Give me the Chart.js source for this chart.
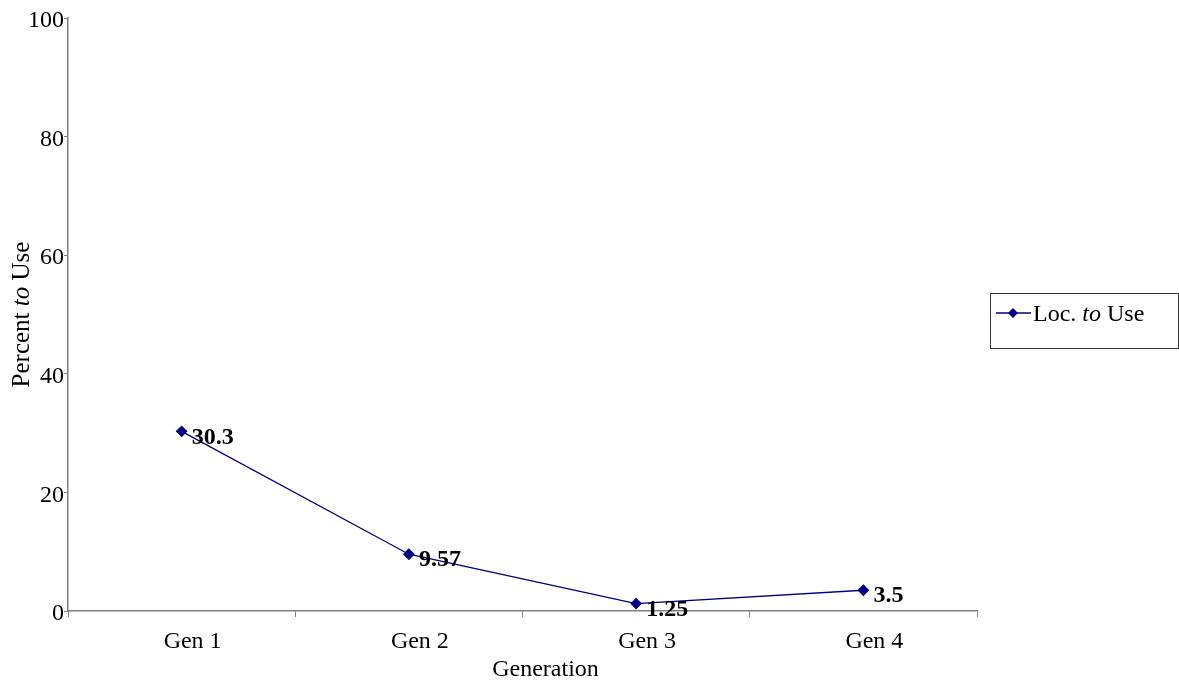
<!DOCTYPE html>
<html>
<head>
<meta charset="utf-8">
<script src="https://cdn.jsdelivr.net/npm/chart.js@4"></script>
<style>
  html, body { margin: 0; padding: 0; background: #fff; }
  #wrap { width: 1179px; height: 683px; }
</style>
</head>
<body>
<div id="wrap"><canvas id="c" width="1179" height="683"></canvas></div>
<script>
// Share of locations "to use" per generation
const generations = ['Gen 1', 'Gen 2', 'Gen 3', 'Gen 4'];
const locToUse = [30.3, 9.57, 1.25, 3.5];
const yTicks = [0, 20, 40, 60, 80, 100];

const FONT = '"Liberation Serif", "DejaVu Serif", serif';
const NAVY = '#000080';
const AXIS = '#808080';
const SIZE = 24;

// Draws mixed roman/italic text runs starting at x
function drawRuns(ctx, runs, x, y, size) {
  let cx = x;
  runs.forEach(r => {
    ctx.font = (r.italic ? 'italic ' : '') + size + 'px ' + FONT;
    ctx.fillText(r.text, cx, y);
    cx += ctx.measureText(r.text).width;
  });
  return cx - x;
}
function runsWidth(ctx, runs, size) {
  let w = 0;
  runs.forEach(r => {
    ctx.font = (r.italic ? 'italic ' : '') + size + 'px ' + FONT;
    w += ctx.measureText(r.text).width;
  });
  return w;
}

const decorations = {
  id: 'decorations',
  afterDatasetsDraw(chart) {
    const ctx = chart.ctx;
    const area = chart.chartArea;
    ctx.save();
    ctx.fillStyle = '#000';

    // value labels next to each point
    ctx.font = 'bold ' + SIZE + 'px ' + FONT;
    ctx.textAlign = 'left';
    ctx.textBaseline = 'middle';
    const meta = chart.getDatasetMeta(0);
    meta.data.forEach((pt, i) => {
      ctx.fillText(String(locToUse[i]), pt.x + 10, pt.y + 6);
    });

    // x axis title
    ctx.font = SIZE + 'px ' + FONT;
    ctx.textAlign = 'center';
    ctx.textBaseline = 'middle';
    ctx.fillText('Generation', (area.left + area.right) / 2 + 23, 670);

    // y axis title (rotated, with italic "to")
    const yRuns = [{text: 'Percent '}, {text: 'to', italic: true}, {text: ' Use'}];
    const ySize = 25;
    const yw = runsWidth(ctx, yRuns, ySize);
    ctx.save();
    ctx.translate(22, (area.top + area.bottom) / 2);
    ctx.rotate(-Math.PI / 2);
    ctx.textAlign = 'left';
    ctx.textBaseline = 'middle';
    drawRuns(ctx, yRuns, -yw / 2, 0, ySize);
    ctx.restore();

    // legend box
    const lx = 990.5, ly = 293.5, lw = 188, lh = 55;
    ctx.strokeStyle = '#333';
    ctx.lineWidth = 1;
    ctx.strokeRect(lx, ly, lw, lh);
    const sy = 313;
    ctx.strokeStyle = NAVY;
    ctx.lineWidth = 1.7;
    ctx.beginPath();
    ctx.moveTo(996, sy);
    ctx.lineTo(1031, sy);
    ctx.stroke();
    ctx.fillStyle = NAVY;
    ctx.beginPath();
    ctx.moveTo(1013, sy - 5);
    ctx.lineTo(1018, sy);
    ctx.lineTo(1013, sy + 5);
    ctx.lineTo(1008, sy);
    ctx.closePath();
    ctx.fill();
    ctx.fillStyle = '#000';
    ctx.textAlign = 'left';
    ctx.textBaseline = 'middle';
    drawRuns(ctx, [{text: 'Loc. '}, {text: 'to', italic: true}, {text: ' Use'}], 1033, sy + 2, SIZE);

    ctx.restore();
  }
};

new Chart(document.getElementById('c'), {
  type: 'line',
  data: {
    labels: generations,
    datasets: [{
      label: 'Loc. to Use',
      data: locToUse,
      borderColor: NAVY,
      backgroundColor: NAVY,
      borderWidth: 1.3,
      pointStyle: 'rectRot',
      pointRadius: 5,
      pointHoverRadius: 5,
      tension: 0,
      fill: false
    }]
  },
  options: {
    responsive: false,
    animation: false,
    devicePixelRatio: 1,
    layout: { padding: { top: 18, right: 202, left: 0, bottom: 0 } },
    plugins: { legend: { display: false }, tooltip: { enabled: false } },
    scales: {
      x: {
        type: 'category',
        offset: true,
        grid: { display: true, drawOnChartArea: false, offset: true, tickLength: 6, color: AXIS, lineWidth: 1 },
        border: { display: true, color: AXIS, width: 1.5 },
        ticks: { color: '#000', font: { family: FONT, size: SIZE }, padding: 10, labelOffset: 11, maxRotation: 0 },
        afterFit(scale) { scale.height = 72; }
      },
      y: {
        min: 0,
        max: 100,
        afterBuildTicks(scale) { scale.ticks = yTicks.map(v => ({ value: v })); },
        grid: { display: true, drawOnChartArea: false, tickLength: 4, color: AXIS, lineWidth: 1 },
        border: { display: true, color: AXIS, width: 1.5 },
        ticks: { color: '#000', font: { family: FONT, size: SIZE }, padding: 0, labelOffset: 3 },
        afterFit(scale) { scale.width = 68; }
      }
    }
  },
  plugins: [decorations]
});
</script>
</body>
</html>
